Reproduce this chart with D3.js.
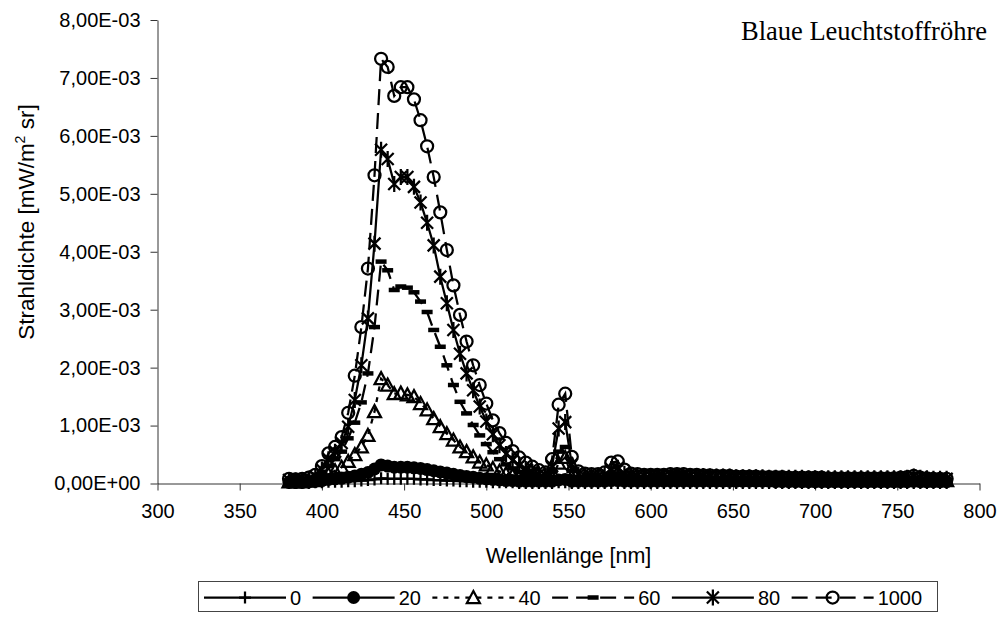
<!DOCTYPE html>
<html>
<head>
<meta charset="utf-8">
<script src="https://cdn.jsdelivr.net/npm/d3@7"></script>
<style>
  html, body { margin: 0; padding: 0; background: #fff; }
  svg { display: block; }
  .sans { font-family: "Liberation Sans", Arial, sans-serif; }
  .serif { font-family: "Liberation Serif", "Times New Roman", serif; }
</style>
</head>
<body>
<svg id="chart" width="1001" height="619"></svg>
<script>
// Wavelength grid of the spectrometer [nm]
const wavelengths = [
  380,384,388,392,396,400,404,408,412,416,
  420,424,428,432,436,440,444,448,452,456,
  460,464,468,472,476,480,484,488,492,496,
  500,504,508,512,516,520,524,528,532,536,
  540,544,548,552,556,560,564,568,572,576,
  580,584,588,592,596,600,604,608,612,616,
  620,624,628,632,636,640,644,648,652,656,
  660,664,668,672,676,680,684,688,692,696,
  700,704,708,712,716,720,724,728,732,736,
  740,744,748,752,756,760,764,768,772,776,
  780
];

// Radiance per series, in 1E-03 mW/(m² sr)
const s0 = [
  0.01,0.01,0.01,0.01,0.02,0.02,0.03,0.03,0.03,0.04,
  0.04,0.05,0.06,0.07,0.09,0.08,0.08,0.08,0.08,0.08,
  0.07,0.07,0.06,0.06,0.05,0.05,0.04,0.04,0.03,0.03,
  0.03,0.02,0.02,0.02,0.02,0.01,0.01,0.01,0.01,0.01,
  0.01,0.02,0.02,0.01,0.01,0.01,0.01,0.01,0.01,0.01,
  0.01,0.01,0.01,0.01,0.01,0.01,0.01,0.01,0.01,0.01,
  0.01,0.01,0.01,0.01,0.01,0.01,0.01,0.01,0.01,0.01,
  0.01,0.01,0.01,0.01,0.01,0.01,0.01,0.01,0.01,0.01,
  0.01,0.01,0.01,0.01,0.01,0.01,0.01,0.01,0.01,0.01,
  0.01,0.01,0.01,0.01,0.01,0.01,0.01,0.01,0.01,0.01,
  0.01
];
const s20 = [
  0.02,0.02,0.02,0.03,0.04,0.05,0.07,0.08,0.09,0.11,
  0.13,0.16,0.19,0.25,0.32,0.30,0.28,0.28,0.28,0.27,
  0.26,0.24,0.22,0.20,0.18,0.16,0.14,0.12,0.11,0.09,
  0.08,0.07,0.06,0.05,0.05,0.04,0.04,0.04,0.04,0.04,
  0.04,0.06,0.07,0.04,0.04,0.04,0.04,0.04,0.04,0.05,
  0.05,0.04,0.04,0.04,0.04,0.04,0.04,0.04,0.04,0.04,
  0.04,0.04,0.04,0.04,0.04,0.04,0.04,0.04,0.04,0.04,
  0.04,0.04,0.04,0.04,0.03,0.03,0.03,0.03,0.03,0.03,
  0.03,0.03,0.03,0.03,0.03,0.03,0.03,0.03,0.03,0.03,
  0.03,0.03,0.03,0.03,0.03,0.04,0.03,0.03,0.03,0.03,
  0.03
];
const s40 = [
  0.03,0.03,0.03,0.04,0.05,0.09,0.16,0.22,0.28,0.38,
  0.50,0.63,0.83,1.24,1.81,1.70,1.55,1.56,1.53,1.50,
  1.38,1.27,1.12,0.98,0.86,0.75,0.63,0.55,0.46,0.37,
  0.32,0.26,0.21,0.17,0.14,0.11,0.09,0.08,0.07,0.07,
  0.10,0.35,0.45,0.12,0.07,0.07,0.07,0.07,0.07,0.10,
  0.10,0.08,0.07,0.07,0.07,0.07,0.07,0.07,0.08,0.08,
  0.08,0.07,0.07,0.07,0.07,0.06,0.06,0.06,0.06,0.06,
  0.06,0.06,0.06,0.06,0.06,0.06,0.06,0.06,0.05,0.05,
  0.05,0.05,0.05,0.05,0.05,0.05,0.05,0.05,0.05,0.05,
  0.05,0.05,0.05,0.05,0.05,0.06,0.05,0.05,0.05,0.05,
  0.05
];
const s60 = [
  0.04,0.04,0.04,0.05,0.08,0.16,0.30,0.42,0.55,0.78,
  1.05,1.40,1.90,2.70,3.83,3.68,3.34,3.40,3.38,3.30,
  3.14,2.96,2.65,2.36,2.04,1.70,1.41,1.21,1.01,0.83,
  0.68,0.54,0.42,0.33,0.26,0.20,0.16,0.13,0.11,0.10,
  0.20,0.55,0.63,0.22,0.11,0.10,0.10,0.10,0.11,0.17,
  0.17,0.12,0.11,0.10,0.10,0.10,0.10,0.10,0.11,0.11,
  0.11,0.10,0.10,0.10,0.10,0.09,0.09,0.09,0.09,0.09,
  0.09,0.09,0.08,0.08,0.08,0.08,0.08,0.08,0.07,0.07,
  0.07,0.07,0.07,0.07,0.07,0.07,0.07,0.07,0.07,0.07,
  0.07,0.07,0.07,0.07,0.08,0.09,0.07,0.07,0.06,0.06,
  0.06
];
const s80 = [
  0.06,0.05,0.06,0.08,0.12,0.24,0.42,0.55,0.70,0.98,
  1.44,2.04,2.85,4.14,5.76,5.60,5.17,5.29,5.29,5.12,
  4.85,4.50,4.11,3.57,3.11,2.65,2.24,1.90,1.61,1.33,
  1.07,0.85,0.66,0.51,0.40,0.31,0.25,0.20,0.16,0.14,
  0.30,0.95,1.06,0.33,0.15,0.13,0.13,0.13,0.15,0.25,
  0.27,0.17,0.14,0.13,0.13,0.13,0.13,0.13,0.14,0.14,
  0.14,0.13,0.13,0.13,0.12,0.12,0.12,0.12,0.11,0.11,
  0.11,0.11,0.11,0.10,0.10,0.10,0.10,0.10,0.10,0.09,
  0.09,0.09,0.09,0.09,0.09,0.09,0.09,0.09,0.09,0.09,
  0.09,0.09,0.09,0.09,0.10,0.12,0.10,0.09,0.08,0.08,
  0.08
];
const s1000 = [
  0.08,0.07,0.08,0.10,0.15,0.30,0.52,0.63,0.80,1.22,
  1.86,2.70,3.71,5.32,7.33,7.19,6.69,6.84,6.84,6.63,
  6.27,5.82,5.29,4.68,4.03,3.42,2.91,2.45,2.04,1.70,
  1.38,1.09,0.87,0.70,0.56,0.45,0.36,0.29,0.23,0.19,
  0.42,1.36,1.55,0.46,0.21,0.17,0.16,0.16,0.19,0.36,
  0.38,0.24,0.17,0.16,0.15,0.15,0.15,0.15,0.16,0.16,
  0.16,0.15,0.15,0.14,0.14,0.13,0.13,0.13,0.12,0.12,
  0.12,0.12,0.11,0.11,0.11,0.11,0.10,0.10,0.10,0.10,
  0.10,0.10,0.09,0.09,0.09,0.09,0.09,0.09,0.09,0.09,
  0.09,0.09,0.09,0.10,0.11,0.13,0.10,0.09,0.08,0.08,
  0.08
];

const seriesNames = ["0", "20", "40", "60", "80", "1000"];
const seriesValues = [s0, s20, s40, s60, s80, s1000];
const xTicks = [300, 350, 400, 450, 500, 550, 600, 650, 700, 750, 800];
const yTicks = [0, 0.001, 0.002, 0.003, 0.004, 0.005, 0.006, 0.007, 0.008];
const unit = 1e-3;

// Line dash and marker shape per series
const styles = [
  { dash: null,   marker: "plus" },
  { dash: null,   marker: "dot" },
  { dash: "5,6",  marker: "triangle" },
  { dash: "16,8", marker: "bar" },
  { dash: null,   marker: "star" },
  { dash: "16,8", marker: "circle" }
];

const svg = d3.select("#chart");
const plot = { left: 157.5, right: 979.5, top: 20, bottom: 483.5 };
const lw = 2.25;

const x = d3.scaleLinear().domain([300, 800]).range([plot.left, plot.right]);
const y = d3.scaleLinear().domain([0, 0.008]).range([plot.bottom, plot.top]);

function sci(v) {
  const [m, e] = v.toExponential(2).split("e");
  const n = +e;
  return m.replace(".", ",") + "E" + (n < 0 ? "-" : "+") + String(Math.abs(n)).padStart(2, "0");
}

// Axes
const gy = svg.append("g").attr("class", "sans")
  .attr("transform", `translate(${plot.left},0)`)
  .call(d3.axisLeft(y).tickValues(yTicks).tickFormat(sci).tickSize(7).tickSizeOuter(0).tickPadding(10));
const gx = svg.append("g").attr("class", "sans")
  .attr("transform", `translate(0,${plot.bottom})`)
  .call(d3.axisBottom(x).tickValues(xTicks).tickFormat(d3.format("d")).tickSize(7).tickSizeOuter(0).tickPadding(13));
[gx, gy].forEach(g => {
  g.selectAll("text").attr("font-size", 20).attr("fill", "#000").attr("font-family", null);
  g.selectAll("line").attr("stroke", "#333");
  g.select(".domain").attr("stroke", "#333");
});

// Marker drawing
function drawMarker(sel, kind) {
  const k = "#000";
  if (kind === "circle") {
    sel.append("circle").attr("r", 6).attr("fill", "none").attr("stroke", k).attr("stroke-width", lw);
  } else if (kind === "dot") {
    sel.append("circle").attr("r", 6.5).attr("fill", k);
  } else if (kind === "triangle") {
    sel.append("path").attr("d", "M0,-6.5L6.5,5.5L-6.5,5.5Z").attr("fill", "none").attr("stroke", k).attr("stroke-width", lw);
  } else if (kind === "bar") {
    sel.append("rect").attr("x", -5.5).attr("y", -2.25).attr("width", 11).attr("height", 4.5).attr("fill", k);
  } else if (kind === "plus") {
    sel.append("path").attr("d", "M-6,0H6M0,-6V6").attr("fill", "none").attr("stroke", k).attr("stroke-width", lw);
  } else if (kind === "star") {
    sel.append("path").attr("d", "M-6,-6L6,6M-6,6L6,-6M0,-8V8").attr("fill", "none").attr("stroke", k).attr("stroke-width", lw);
  }
}

const line = d3.line().x(d => x(d.wl)).y(d => y(d.v));

seriesValues.forEach((vals, si) => {
  const pts = wavelengths.map((wl, i) => ({ wl, v: vals[i] * unit }));
  const g = svg.append("g");
  g.append("path").datum(pts)
    .attr("d", line)
    .attr("fill", "none")
    .attr("stroke", "#000")
    .attr("stroke-width", lw)
    .attr("stroke-dasharray", styles[si].dash);
  g.selectAll("g.m").data(pts).join("g")
    .attr("class", "m")
    .attr("transform", d => `translate(${x(d.wl)},${y(d.v)})`)
    .each(function () { drawMarker(d3.select(this), styles[si].marker); });
});

// Title
svg.append("text").attr("class", "serif")
  .attr("x", 987).attr("y", 40).attr("text-anchor", "end")
  .attr("font-size", 26.5).text("Blaue Leuchtstoffröhre");

// Axis titles
svg.append("text").attr("class", "sans")
  .attr("x", (plot.left + plot.right) / 2).attr("y", 563).attr("text-anchor", "middle")
  .attr("font-size", 21.5).text("Wellenlänge [nm]");

const yt = svg.append("text").attr("class", "sans")
  .attr("transform", "translate(34,222) rotate(-90)")
  .attr("text-anchor", "middle").attr("font-size", 22.5);
yt.append("tspan").text("Strahldichte [mW/m");
yt.append("tspan").attr("font-size", 14).attr("dy", -9).text("2");
yt.append("tspan").attr("dy", 9).text(" sr]");

// Legend
const legend = svg.append("g").attr("class", "sans");
const box = { x: 198.5, y: 581.5, w: 739, h: 30 };
legend.append("rect").attr("x", box.x).attr("y", box.y).attr("width", box.w).attr("height", box.h)
  .attr("fill", "#fff").attr("stroke", "#444").attr("stroke-width", 1);
let cx = 204;
const ly = box.y + 16;
seriesNames.forEach((name, si) => {
  const item = legend.append("g");
  item.append("line").attr("x1", cx).attr("x2", cx + 82).attr("y1", ly).attr("y2", ly)
    .attr("stroke", "#000").attr("stroke-width", lw).attr("stroke-dasharray", styles[si].dash);
  const m = item.append("g").attr("transform", `translate(${cx + 41},${ly})`);
  drawMarker(m, styles[si].marker);
  const t = item.append("text").attr("x", cx + 86).attr("y", ly + 7).attr("font-size", 20).text(name);
  cx += 86 + t.node().getComputedTextLength() + 11.5;
});
</script>
</body>
</html>
